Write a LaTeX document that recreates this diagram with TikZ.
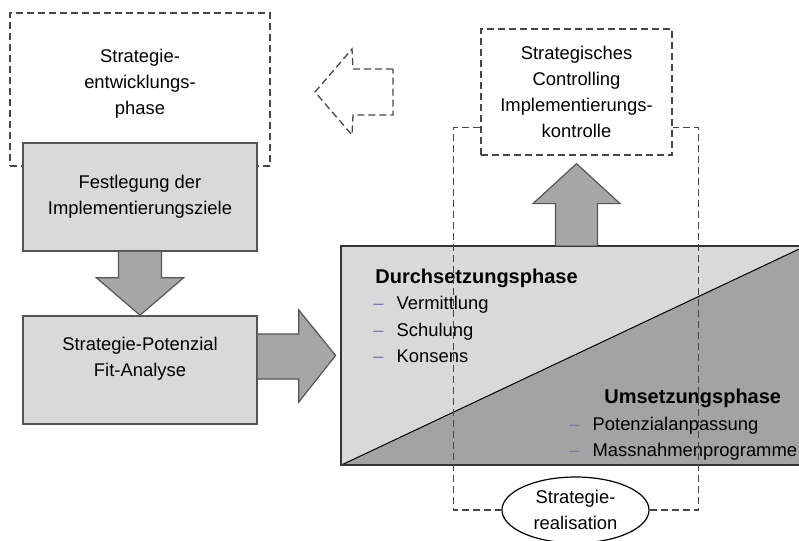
\documentclass[tikz,border=0pt]{standalone}
\usepackage{fontspec}
\setmainfont{Liberation Sans}
\usepackage{xcolor}
\usepackage{tikz}
\usetikzlibrary{shapes.geometric,positioning,calc}
\definecolor{boxgray}{RGB}{217,217,217}
\definecolor{arrowgray}{RGB}{166,166,166}
\definecolor{phasedark}{RGB}{163,163,163}
\definecolor{framegray}{RGB}{85,85,85}
\definecolor{dashgray}{RGB}{70,70,70}
\definecolor{itemblue}{RGB}{120,120,180}
\newcommand{\phaseitem}{{\color{itemblue}--}\hspace{6.5pt}}

\tikzset{
  phasebox/.style={draw=framegray, line width=0.8pt, fill=boxgray, inner sep=0pt,
    minimum width=117pt, minimum height=54pt, align=center},
  dashline/.style={draw=dashgray, line width=0.65pt, dash pattern=on 3.5pt off 2pt},
  dashbox/.style={dashline, inner sep=0pt, align=center},
  blockarrow/.style={draw=framegray, line width=0.6pt, fill=arrowgray},
  boldtitle/.style={anchor=base west, inner sep=0pt, font=\bfseries},
  listitem/.style={anchor=base west, inner sep=0pt},
}

\begin{document}
\begin{tikzpicture}[x=0.5pt, y=-0.5pt, font=\fontsize{9.2}{13}\selectfont]
    \useasboundingbox (0,0) rectangle (799,541);
    \clip (0,0) rectangle (799,541);

    % Strategy development phase
    \node[dashbox, minimum width=130pt, minimum height=76.5pt] (devphase) at (140,89.5) {};
    \node[align=center] (devtext) at (140,84) {Strategie-\\entwicklungs-\\phase};

    % Left column boxes
    \node[phasebox] (fest) at (140,197) {Festlegung der\\Implementierungsziele};
    \node[phasebox] (fit) at (140,370) {};
    \node[align=center] (fittext) at (140,359) {Strategie-Potenzial\\Fit-Analyse};

    % Implementation block
    \node[inner sep=0pt, minimum width=232.5pt, minimum height=109.5pt] (impl) at (573.5,355.5) {};
    \fill[boxgray] (impl.south west) rectangle (impl.north east);
    \fill[phasedark] (impl.south west) -- (impl.north east) -- (impl.south east) -- cycle;
    \draw[line width=0.5pt] (impl.south west) -- (impl.north east);
    \draw[draw=black!80, line width=1pt] (impl.south west) rectangle (impl.north east);

    \node[boldtitle] (durch) at (375,283) {Durchsetzungsphase};
    \node[listitem] (verm) at (373,309) {\phaseitem Vermittlung};
    \node[listitem] (schul) at (373,336) {\phaseitem Schulung};
    \node[listitem] (kons) at (373,362) {\phaseitem Konsens};
    \node[boldtitle] (umset) at (604,403) {Umsetzungsphase};
    \node[listitem] (pot) at (569,430) {\phaseitem Potenzialanpassung};
    \node[listitem] (mass) at (569,456) {\phaseitem Massnahmenprogramme};

    % Strategic controlling
    \node[dashbox, fill=white, minimum width=95.5pt, minimum height=63pt] (ctrl) at (576.5,92)
        {Strategisches\\Controlling\\Implementierungs-\\kontrolle};

    % Block arrows
    \draw[blockarrow] ($(fest.south)+(-21.5,0)$) -- ++(0,26) -- ++(-22,0) -- (fit.north)
        -- ($(fest.south)+(43.5,26)$) -- ++(-22,0) -- ++(0,-26);
    \draw[blockarrow] ($(fit.east)+(0,-36)$) -- ++(41,0) -- ++(0,-24) -- ($(impl.west)+(-5,0)$)
        -- ($(fit.east)+(41,32)$) -- ++(0,-23) -- ++(-41,0);
    \draw[blockarrow] ($(impl.north -| ctrl.south)+(-21,0)$) -- ++(0,-42) -- ++(-22.5,0)
        -- ($(ctrl.south)+(0,8)$) -- ($(impl.north -| ctrl.south)+(43.5,-42)$) -- ++(-22.5,0) -- ++(0,42);

    % Feedback arrow (dashed)
    \draw[dashline] (393,69) -- (353,69) -- (352,49) -- (315,92) -- (352,135) -- (353,115) -- (393,115) -- cycle;

    % Realisation frame
    \node[ellipse, draw=black, line width=0.6pt, fill=white, inner sep=0pt,
          minimum width=73.5pt, minimum height=33pt, align=center] (real) at (575.5,510)
        {Strategie-\\realisation};
    \draw[dashline] ($(ctrl.south west)+(0,-28)$) -- ++(-27,0) |- (real.west);
    \draw[dashline] (real.east) -| ($(ctrl.south east)+(26,-28)$) -- ++(-26,0);
\end{tikzpicture}
\end{document}
